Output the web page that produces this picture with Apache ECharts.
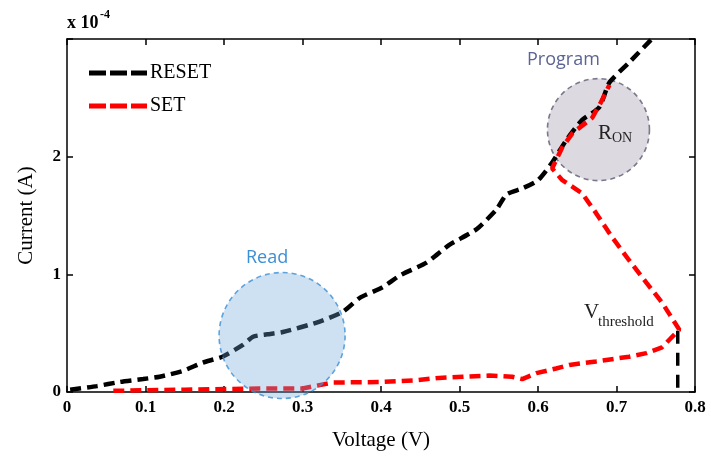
<!DOCTYPE html>
<html><head><meta charset="utf-8">
<script src="https://cdn.jsdelivr.net/npm/echarts@6/dist/echarts.min.js"></script>
<style>html,body{margin:0;padding:0;background:#fff}#c{width:711px;height:461px}</style>
</head><body><div id="c"></div>
<script>
// Values in units of 1e-4 A
const resetV = [0.004,0.038,0.067,0.097,0.118,0.148,0.173,0.198,0.224,0.237,0.255,0.275,0.318,0.351,0.373,0.402,0.424,0.458,0.487,0.521,0.547,0.56,0.58,0.60,0.618,0.636,0.656,0.678,0.691,0.716,0.745];
const resetI = [0.02,0.05,0.085,0.11,0.13,0.18,0.25,0.30,0.40,0.47,0.49,0.51,0.59,0.68,0.80,0.89,0.99,1.10,1.25,1.38,1.55,1.68,1.73,1.80,1.95,2.14,2.31,2.42,2.63,2.80,3.0];
const setV = [0.059,0.15,0.245,0.30,0.338,0.40,0.445,0.474,0.504,0.538,0.567,0.58,0.598,0.623,0.64,0.674,0.716,0.738,0.758,0.78,0.758,0.738,0.716,0.694,0.674,0.656,0.631,0.618,0.631,0.644,0.669,0.68,0.691];
const setI = [0.01,0.02,0.03,0.03,0.08,0.085,0.10,0.12,0.13,0.14,0.13,0.11,0.16,0.20,0.23,0.26,0.30,0.33,0.38,0.53,0.76,0.93,1.12,1.32,1.52,1.69,1.80,1.90,2.08,2.20,2.33,2.46,2.61];
const thresholdV = [0.778,0.778];
const thresholdI = [0.52,0];
const regionNames = ['Read','Program'];
const regionV = [0.274,0.677];
const regionI = [0.48,2.23];
const xTicks = [0,0.1,0.2,0.3,0.4,0.5,0.6,0.7,0.8];
const yTicks = [0,1,2];

const pair = (a,b)=>a.map((v,i)=>[v,b[i]]);
const chart = echarts.init(document.getElementById('c'));
const serif = '"Liberation Serif","DejaVu Serif",serif';
const dashIcon = 'path://M0,0h17v5h-17z M21,0h17v5h-17z M42,0h16v5h-16z';
const axisCommon = {
  axisLine:{show:true,onZero:false,lineStyle:{color:'#000',width:1.5}},
  axisTick:{show:true,inside:true,length:6,lineStyle:{color:'#000',width:1.5}},
  splitLine:{show:false}
};
chart.setOption({
  animation:false,
  backgroundColor:'#fff',
  grid:{left:67,right:16,top:39,bottom:69},
  legend:{
    left:84,top:58,orient:'vertical',itemWidth:58,itemHeight:6,itemGap:13,
    data:[{name:'RESET',icon:dashIcon},{name:'SET',icon:dashIcon}],
    textStyle:{fontFamily:serif,fontSize:20,color:'#000',padding:[2,0,0,-2]}
  },
  xAxis:[
    Object.assign({type:'value',min:0,max:0.8,interval:0.1,position:'bottom',
      name:'Voltage (V)',nameLocation:'middle',nameGap:38,
      nameTextStyle:{fontFamily:serif,fontSize:21,color:'#000'},
      axisLabel:{fontFamily:serif,fontWeight:'bold',fontSize:17,color:'#000',margin:7,
        formatter:v=>xTicks.some(t=>Math.abs(t-v)<1e-9)?String(+v.toFixed(1)):''}},axisCommon),
    Object.assign({type:'value',min:0,max:0.8,interval:0.1,position:'top',axisLabel:{show:false}},axisCommon)
  ],
  yAxis:[
    Object.assign({type:'value',min:0,max:3,interval:1,position:'left',
      name:'Current (A)',nameLocation:'middle',nameGap:30,
      nameTextStyle:{fontFamily:serif,fontSize:21,color:'#000'},
      axisLabel:{fontFamily:serif,fontWeight:'bold',fontSize:17,color:'#000',margin:6,
        formatter:v=>yTicks.includes(v)?String(v):''}},axisCommon),
    Object.assign({type:'value',min:0,max:3,interval:1,position:'right',axisLabel:{show:false}},axisCommon)
  ],
  series:[
    {name:'ProgramCircle',type:'scatter',z:1,silent:true,
      data:[[regionV[1],regionI[1]]],symbol:'circle',symbolSize:102,
      itemStyle:{color:'#d4d0da',borderColor:'#5c5a72',borderWidth:1.6,borderType:[5,4]}},
    {name:'RESET',type:'line',z:3,data:pair(resetV,resetI),showSymbol:false,symbol:'none',smooth:0.2,
      lineStyle:{color:'#000',width:4.5,type:[11,6]},itemStyle:{color:'#000'}},
    {name:'SET',type:'line',z:3,data:pair(setV,setI),showSymbol:false,symbol:'none',
      lineStyle:{color:'#ff0000',width:4.5,type:[11,6]},itemStyle:{color:'#ff0000'}},
    {name:'threshold',type:'line',z:3,data:pair(thresholdV,thresholdI),showSymbol:false,symbol:'none',
      lineStyle:{color:'#000',width:3.5,type:[13,9]}},
    {name:'ReadCircle',type:'scatter',z:5,silent:true,clip:false,
      data:[[regionV[0],regionI[0]]],symbol:'circle',symbolSize:126,
      itemStyle:{color:'rgba(110,165,215,0.42)',borderColor:'#3b8fd6',borderWidth:1.6,borderType:[5,4]}}
  ],
  graphic:[
    {type:'text',z:100,left:67,top:14,style:{text:'x 10',font:'bold 18px '+serif,fill:'#000'}},
    {type:'text',z:100,left:100,top:9,style:{text:'-4',font:'bold 12px '+serif,fill:'#000'}},
    {type:'text',z:100,left:246,top:249,style:{text:regionNames[0],font:'18px "Open Sans","Noto Sans",sans-serif',fill:'#3b8fd6'}},
    {type:'text',z:100,left:527,top:51,style:{text:regionNames[1],font:'18px "Open Sans","Noto Sans",sans-serif',fill:'#5b6494'}},
    {type:'text',z:100,left:598,top:123,style:{text:'R',font:'21px '+serif,fill:'#222'}},
    {type:'text',z:100,left:612,top:131,style:{text:'ON',font:'14px '+serif,fill:'#222'}},
    {type:'text',z:100,left:584,top:302,style:{text:'V',font:'21px '+serif,fill:'#222'}},
    {type:'text',z:100,left:598,top:315,style:{text:'threshold',font:'15px '+serif,fill:'#222'}}
  ]
});
</script></body></html>
